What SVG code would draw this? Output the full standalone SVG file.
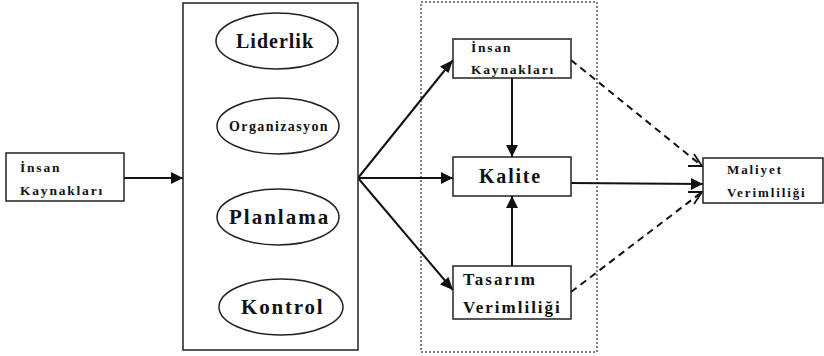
<svg xmlns="http://www.w3.org/2000/svg" width="824" height="356" viewBox="0 0 824 356">
<style>
.box{fill:#fff;stroke:#222;stroke-width:1.5}
.ell{fill:#fff;stroke:#222;stroke-width:1.5}
.t{font-family:"Liberation Serif","DejaVu Serif",serif;font-weight:bold;fill:#111}
.s{font-size:13.5px;letter-spacing:1.8px}
.ln{stroke:#111;stroke-width:2;fill:none}
.dash{stroke:#111;stroke-width:2;fill:none;stroke-dasharray:7,5}
</style>
<rect width="824" height="356" fill="#fff"/>
<g id="frame">
<rect x="421" y="2" width="176" height="350" fill="none" stroke="#555" stroke-width="1.5" stroke-dasharray="2,2"/>
</g>
<g id="connectors">
<line class="ln" x1="124" y1="178" x2="183" y2="178"/>
<line class="ln" x1="358" y1="178" x2="453" y2="60"/>
<line class="ln" x1="358" y1="178" x2="453" y2="178"/>
<line class="ln" x1="358" y1="178" x2="453" y2="290"/>
<line class="ln" x1="512" y1="78" x2="512" y2="157"/>
<line class="ln" x1="512" y1="266" x2="512" y2="196"/>
<line class="ln" x1="571" y1="183" x2="703" y2="184"/>
<line class="dash" x1="571" y1="60" x2="702" y2="166"/>
<line class="dash" x1="571" y1="292" x2="702" y2="192"/>
</g>
<g id="arrowheads" fill="#111">
<path d="M183,178 l-12,-6 v12 z"/>
<path d="M453,60 l-4.5,13 l-8.5,-6.5 z"/>
<path d="M453,178 l-12,-6 v12 z"/>
<path d="M453,290 l-13,-5.5 l8.5,-7.5 z"/>
<path d="M512,157 l-6,-12 h12 z"/>
<path d="M512,196 l-6,12 h12 z"/>
<path d="M703,184 l-12,-6 v12 z"/>
<path d="M688,166 L702,166 L694,154" fill="none" stroke="#111" stroke-width="1.8"/>
<path d="M688,192 L702,192 L694,204" fill="none" stroke="#111" stroke-width="1.8"/>
</g>
<g id="n-insan-left">
<rect class="box" x="6" y="153" width="118" height="48"/>
<text class="t s" x="20" y="172">İnsan</text>
<text class="t s" x="20" y="195">Kaynakları</text>
</g>
<g id="n-management">
<rect class="box" x="183" y="3" width="175" height="347"/>
</g>
<g id="n-liderlik">
<ellipse class="ell" cx="277" cy="41" rx="61" ry="28"/>
<text class="t" font-size="20" letter-spacing="1" x="236" y="48">Liderlik</text>
</g>
<g id="n-organizasyon">
<ellipse class="ell" cx="278" cy="126" rx="61" ry="28"/>
<text class="t" font-size="14" letter-spacing="1.4" x="229" y="131">Organizasyon</text>
</g>
<g id="n-planlama">
<ellipse class="ell" cx="278" cy="217" rx="61" ry="28"/>
<text class="t" font-size="21" letter-spacing="2" x="229" y="224">Planlama</text>
</g>
<g id="n-kontrol">
<ellipse class="ell" cx="281" cy="307" rx="62" ry="28"/>
<text class="t" font-size="21" letter-spacing="1.8" x="241" y="314">Kontrol</text>
</g>
<g id="n-insan-right">
<rect class="box" x="453" y="39" width="118" height="39"/>
<text class="t s" x="471" y="52">İnsan</text>
<text class="t s" x="471" y="74">Kaynakları</text>
</g>
<g id="n-kalite">
<rect class="box" x="453" y="157" width="118" height="39"/>
<text class="t" font-size="20" letter-spacing="1.8" x="479" y="183">Kalite</text>
</g>
<g id="n-tasarim">
<rect class="box" x="453" y="266" width="118" height="53"/>
<text class="t" font-size="17" letter-spacing="2" x="463" y="285">Tasarım</text>
<text class="t" font-size="17" letter-spacing="2" x="463" y="313">Verimliliği</text>
</g>
<g id="n-maliyet">
<rect class="box" x="703" y="158" width="120" height="45"/>
<text class="t" font-size="13" letter-spacing="1.9" x="727" y="174">Maliyet</text>
<text class="t" font-size="13" letter-spacing="1.9" x="727" y="197">Verimliliği</text>
</g>
</svg>
